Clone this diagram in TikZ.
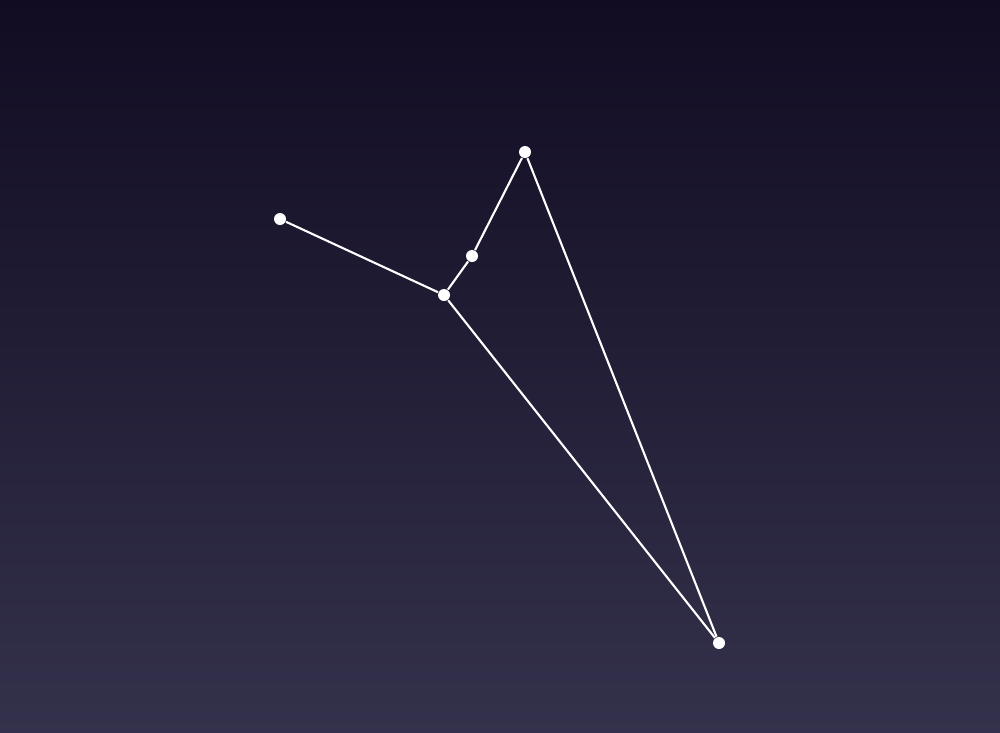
\documentclass[tikz,border=0pt]{standalone}
\usetikzlibrary{positioning}
\definecolor{skytop}{HTML}{110C22}
\definecolor{skybottom}{HTML}{34314C}

\begin{document}
\begin{tikzpicture}[
    star/.style={circle, fill=white, inner sep=0pt, minimum size=0.12cm},
    link/.style={draw=white, line width=0.6pt}
  ]
  % Sky
  \shade[top color=skytop, bottom color=skybottom] (0,0) rectangle (10,7.32);
  \useasboundingbox (0,0) rectangle (10,7.32);

  % Stars
  \node[star] (s1) at (2.80, 5.13) {};
  \node[star] (s2) at (4.44, 4.37) {};
  \node[star] (s3) at (4.72, 4.76) {};
  \node[star] (s4) at (5.25, 5.80) {};
  \node[star] (s5) at (7.19, 0.89) {};

  % Lines
  \draw[link] (s1) -- (s2);
  \draw[link] (s2) -- (s3);
  \draw[link] (s3) -- (s4);
  \draw[link] (s4) -- (s5);
  \draw[link] (s2) -- (s5);
\end{tikzpicture}
\end{document}
